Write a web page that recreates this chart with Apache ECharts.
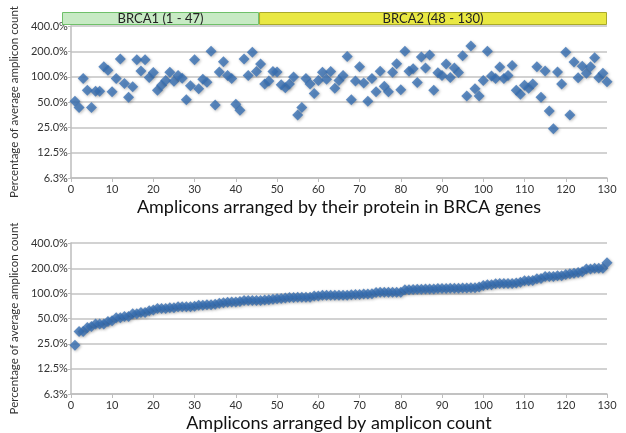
<!DOCTYPE html>
<html>
<head>
<meta charset="utf-8">
<script src="https://cdn.jsdelivr.net/npm/echarts@6/dist/echarts.min.js"></script>
<style>html,body{margin:0;padding:0;background:#fff}#c{width:626px;height:433px}</style>
</head>
<body>
<div id="c"></div>
<script>
// Top panel: percentage of average amplicon count, amplicons 1..130 in protein order
const byProtein = [
  51,43,95,69,43,67,67,131,119,66,
  95,162,83,57,76,159,117,159,98,112,
  69,79,90,113,88,103,96,53,78,159,
  72,93,86,200,46,114,150,103,95,47,
  40,162,103,195,115,141,82,89,115,114,
  80,74,82,99,35,43,95,82,63,90,
  113,93,115,73,90,103,174,53,89,131,
  84,51,95,66,116,77,66,113,142,70,
  200,116,124,85,171,127,181,69,111,103,
  141,98,127,112,177,59,232,72,59,90,
  200,102,95,130,95,103,136,69,62,79,
  73,82,131,57,117,39,24,114,82,195,
  35,149,97,133,110,131,168,97,110,87
];
// Bottom panel: same amplicons arranged by count
const byCount = [
  24,35,35,39,40,43,43,43,46,47,
  51,51,53,53,57,57,59,59,62,63,
  66,66,66,67,67,69,69,69,69,70,
  72,72,73,73,74,76,77,78,79,79,
  80,82,82,82,82,82,83,84,85,86,
  87,88,89,89,90,90,90,90,93,93,
  95,95,95,95,95,95,95,96,97,97,
  98,98,99,102,103,103,103,103,103,103,
  110,110,111,112,112,113,113,113,114,114,
  114,115,115,115,116,116,117,117,119,124,
  127,127,130,131,131,131,131,133,136,141,
  141,142,149,150,159,159,159,162,162,168,
  171,174,177,181,195,195,200,200,200,232
];
const bandNames = ['BRCA1 (1 - 47)', 'BRCA2 (48 - 130)'];
const bandSpans = [47, 83];
const yTickValues = [6.25, 12.5, 25, 50, 100, 200, 400];
const yTickLabels = ['6.3%', '12.5%', '25.0%', '50.0%', '100.0%', '200.0%', '400.0%'];
const xTitles = ['Amplicons arranged by their protein in BRCA genes', 'Amplicons arranged by amplicon count'];
const yTitle = 'Percentage of average amplicon count';

const FONT = 'Lato';
const toPts = arr => arr.map((v, i) => [i + 1, v]);
function yLabel(v) {
  let best = 0, d = Infinity;
  yTickValues.forEach((t, i) => { const e = Math.abs(Math.log(v / t)); if (e < d) { d = e; best = i; } });
  return yTickLabels[best];
}
function xAxisCfg(idx, name) {
  return {
    gridIndex: idx, type: 'value', min: 0, max: 130, interval: 10,
    name: name, nameLocation: 'middle', nameGap: 20,
    nameTextStyle: { fontFamily: FONT, fontSize: 18, color: '#111' },
    axisLine: { show: true, lineStyle: { color: '#bdbdbd', width: 1.5 } },
    axisTick: { show: true, length: 4, lineStyle: { color: '#bdbdbd' } },
    axisLabel: { fontFamily: FONT, fontSize: 11, color: '#333', margin: 6 },
    splitLine: { show: false }
  };
}
function yAxisCfg(idx) {
  return {
    gridIndex: idx, type: 'log', logBase: 2, min: 6.25, max: 400, interval: 1,
    name: yTitle, nameLocation: 'middle', nameRotate: 90, nameGap: 40,
    nameTextStyle: { fontFamily: FONT, fontSize: 11.5, color: '#333' },
    axisLine: { show: true, lineStyle: { color: '#bdbdbd', width: 1.5 } },
    axisTick: { show: true, length: 3, lineStyle: { color: '#bdbdbd' } },
    axisLabel: { fontFamily: FONT, fontSize: 11, color: '#333', margin: 3, formatter: yLabel },
    splitLine: { show: true, lineStyle: { color: '#d2d2d2', width: 2 } }
  };
}
const markerStyle = {
  color: '#3870b4',
  shadowBlur: 3, shadowColor: 'rgba(0,0,0,0.35)', shadowOffsetX: 1, shadowOffsetY: 1
};
const chart = echarts.init(document.getElementById('c'), null, { renderer: 'canvas' });
chart.setOption({
  animation: false,
  backgroundColor: '#ffffff',
  grid: [
    { left: 61, right: 19, top: 26, height: 152 },
    { left: 61, right: 19, top: 243, height: 151 },
    { left: 62, right: 19, top: 12, height: 13 }
  ],
  xAxis: [
    xAxisCfg(0, xTitles[0]),
    xAxisCfg(1, xTitles[1]),
    { gridIndex: 2, type: 'value', min: 0, max: 130, show: false }
  ],
  yAxis: [
    yAxisCfg(0),
    yAxisCfg(1),
    { gridIndex: 2, type: 'category', data: ['band'], show: false }
  ],
  series: [
    { type: 'scatter', xAxisIndex: 0, yAxisIndex: 0, symbol: 'diamond', symbolSize: 11,
      itemStyle: markerStyle, data: toPts(byProtein) },
    { type: 'scatter', xAxisIndex: 1, yAxisIndex: 1, symbol: 'diamond', symbolSize: 11,
      itemStyle: markerStyle, data: toPts(byCount) },
    { type: 'bar', name: bandNames[0], xAxisIndex: 2, yAxisIndex: 2, stack: 'band', barWidth: '100%',
      data: [bandSpans[0]],
      itemStyle: { color: '#c7eac4', borderColor: '#6fc06a', borderWidth: 1 },
      label: { show: true, position: 'inside', formatter: bandNames[0], fontFamily: FONT, fontSize: 13, color: '#222' } },
    { type: 'bar', name: bandNames[1], xAxisIndex: 2, yAxisIndex: 2, stack: 'band', barWidth: '100%',
      data: [bandSpans[1]],
      itemStyle: { color: '#e9e843', borderColor: '#a9a92a', borderWidth: 1 },
      label: { show: true, position: 'inside', formatter: bandNames[1], fontFamily: FONT, fontSize: 13, color: '#222' } }
  ]
});
</script>
</body>
</html>
